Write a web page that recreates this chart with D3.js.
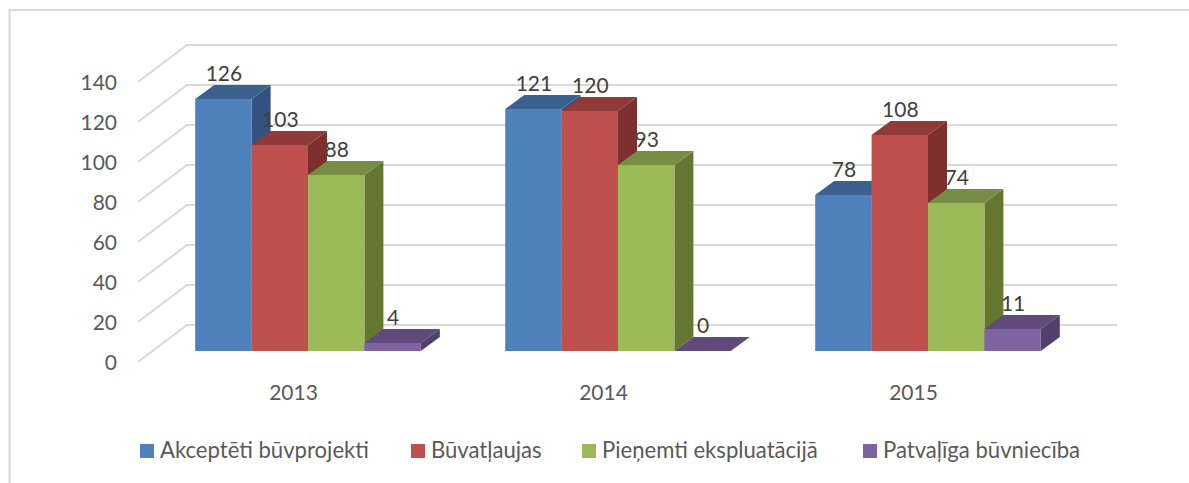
<!DOCTYPE html>
<html><head><meta charset="utf-8">
<script src="https://cdnjs.cloudflare.com/ajax/libs/d3/7.8.5/d3.min.js"></script>
<style>html,body{margin:0;padding:0;background:#fff}svg{display:block}text{font-family:Lato,"Open Sans",sans-serif}</style>
</head><body><svg id="c" width="1189" height="483"></svg>
<script>
const years = ["2013","2014","2015"];
const seriesNames = ["Akceptēti būvprojekti","Būvatļaujas","Pieņemti ekspluatācijā","Patvaļīga būvniecība"];
const akcepteti = [126,121,78];
const buvatlaujas = [103,120,108];
const pienemti = [88,93,74];
const patvaliga = [4,0,11];
const seriesValues = [akcepteti,buvatlaujas,pienemti,patvaliga];
const frontColors = ["#4f81bd","#c0504d","#9bbb59","#8064a2"];
const topColors = ["#3d618f","#8f3a38","#768e43","#604a7b"];
const sideColors = ["#325280","#7d302e","#64762f","#533f6c"];
const tickValues = [0,20,40,60,80,100,120,140];
const legendSwatchX = [140,411,582,863];

const svg = d3.select("#c");
const y = d3.scaleLinear().domain([0,140]).range([351,71]);
const gridFront = d3.scaleLinear().domain([0,140]).range([362,82]);
const gridBack = d3.scaleLinear().domain([0,140]).range([325,45]);
const xLabel = d3.scaleBand().domain(years).range([138.5,1068.5]);
const xGroup = d3.scaleBand().domain(years).range([153,1083]);
const xBar = d3.scaleBand().domain(d3.range(4)).range([0,225.6]);
const dx = 19, dy = 14;

// frame
svg.append("path").attr("d","M9.5,483V10H1189").attr("fill","none").attr("stroke","#d9d9d9").attr("stroke-width",2);

// gridlines
const grid = svg.append("g").attr("fill","none").attr("stroke","#d9d9d9").attr("stroke-width",2);
tickValues.forEach(v=>{
  grid.append("path").attr("d",d3.line()([[138,gridFront(v)],[187,gridBack(v)],[1117,gridBack(v)]]));
});

// y tick labels
const yAxis = d3.scaleLinear().domain([0,140]).range([362,82]);
const ax = svg.append("g").attr("transform","translate(117,0)")
  .call(d3.axisLeft(yAxis).tickValues(tickValues).tickSize(0).tickPadding(0));
ax.select(".domain").remove();
ax.selectAll("text").attr("x",0).attr("dy",0).attr("y",7).attr("fill","#595959").style("font-size","21px").style("font-family","Lato");

// bars
years.forEach((yr,i)=>{
  seriesValues.forEach((vals,s)=>{
    const x0 = xGroup(yr)+(xGroup.bandwidth()-225.6)/2+xBar(s);
    const w = xBar.bandwidth();
    const t = y(vals[i]), b = y(0);
    const g = svg.append("g");
    g.append("path").attr("fill",sideColors[s])
      .attr("d",d3.line()([[x0+w,t],[x0+w+dx,t-dy],[x0+w+dx,b-dy],[x0+w,b]])+"Z");
    g.append("path").attr("fill",topColors[s])
      .attr("d",d3.line()([[x0,t],[x0+dx,t-dy],[x0+w+dx,t-dy],[x0+w,t]])+"Z");
    g.append("rect").attr("x",x0).attr("y",t).attr("width",w).attr("height",b-t).attr("fill",frontColors[s]);
  });
});
// data labels on top
years.forEach((yr,i)=>{
  seriesValues.forEach((vals,s)=>{
    const x0 = xGroup(yr)+(xGroup.bandwidth()-225.6)/2+xBar(s);
    svg.append("text").attr("x",x0+xBar.bandwidth()/2+0.5).attr("y",y(vals[i])-18)
      .attr("text-anchor","middle").attr("fill","#404040").style("font-size","21px").text(vals[i]);
  });
});

// category labels
years.forEach(yr=>{
  svg.append("text").attr("x",xLabel(yr)+xLabel.bandwidth()/2).attr("y",399.5)
    .attr("text-anchor","middle").attr("fill","#595959").style("font-size","21px").text(yr);
});

// legend
seriesNames.forEach((n,s)=>{
  svg.append("rect").attr("x",legendSwatchX[s]).attr("y",444).attr("width",14).attr("height",14).attr("fill",frontColors[s]);
  svg.append("text").attr("x",legendSwatchX[s]+20).attr("y",458).attr("fill","#595959").style("font-size","22.1px").text(n);
});
</script></body></html>
